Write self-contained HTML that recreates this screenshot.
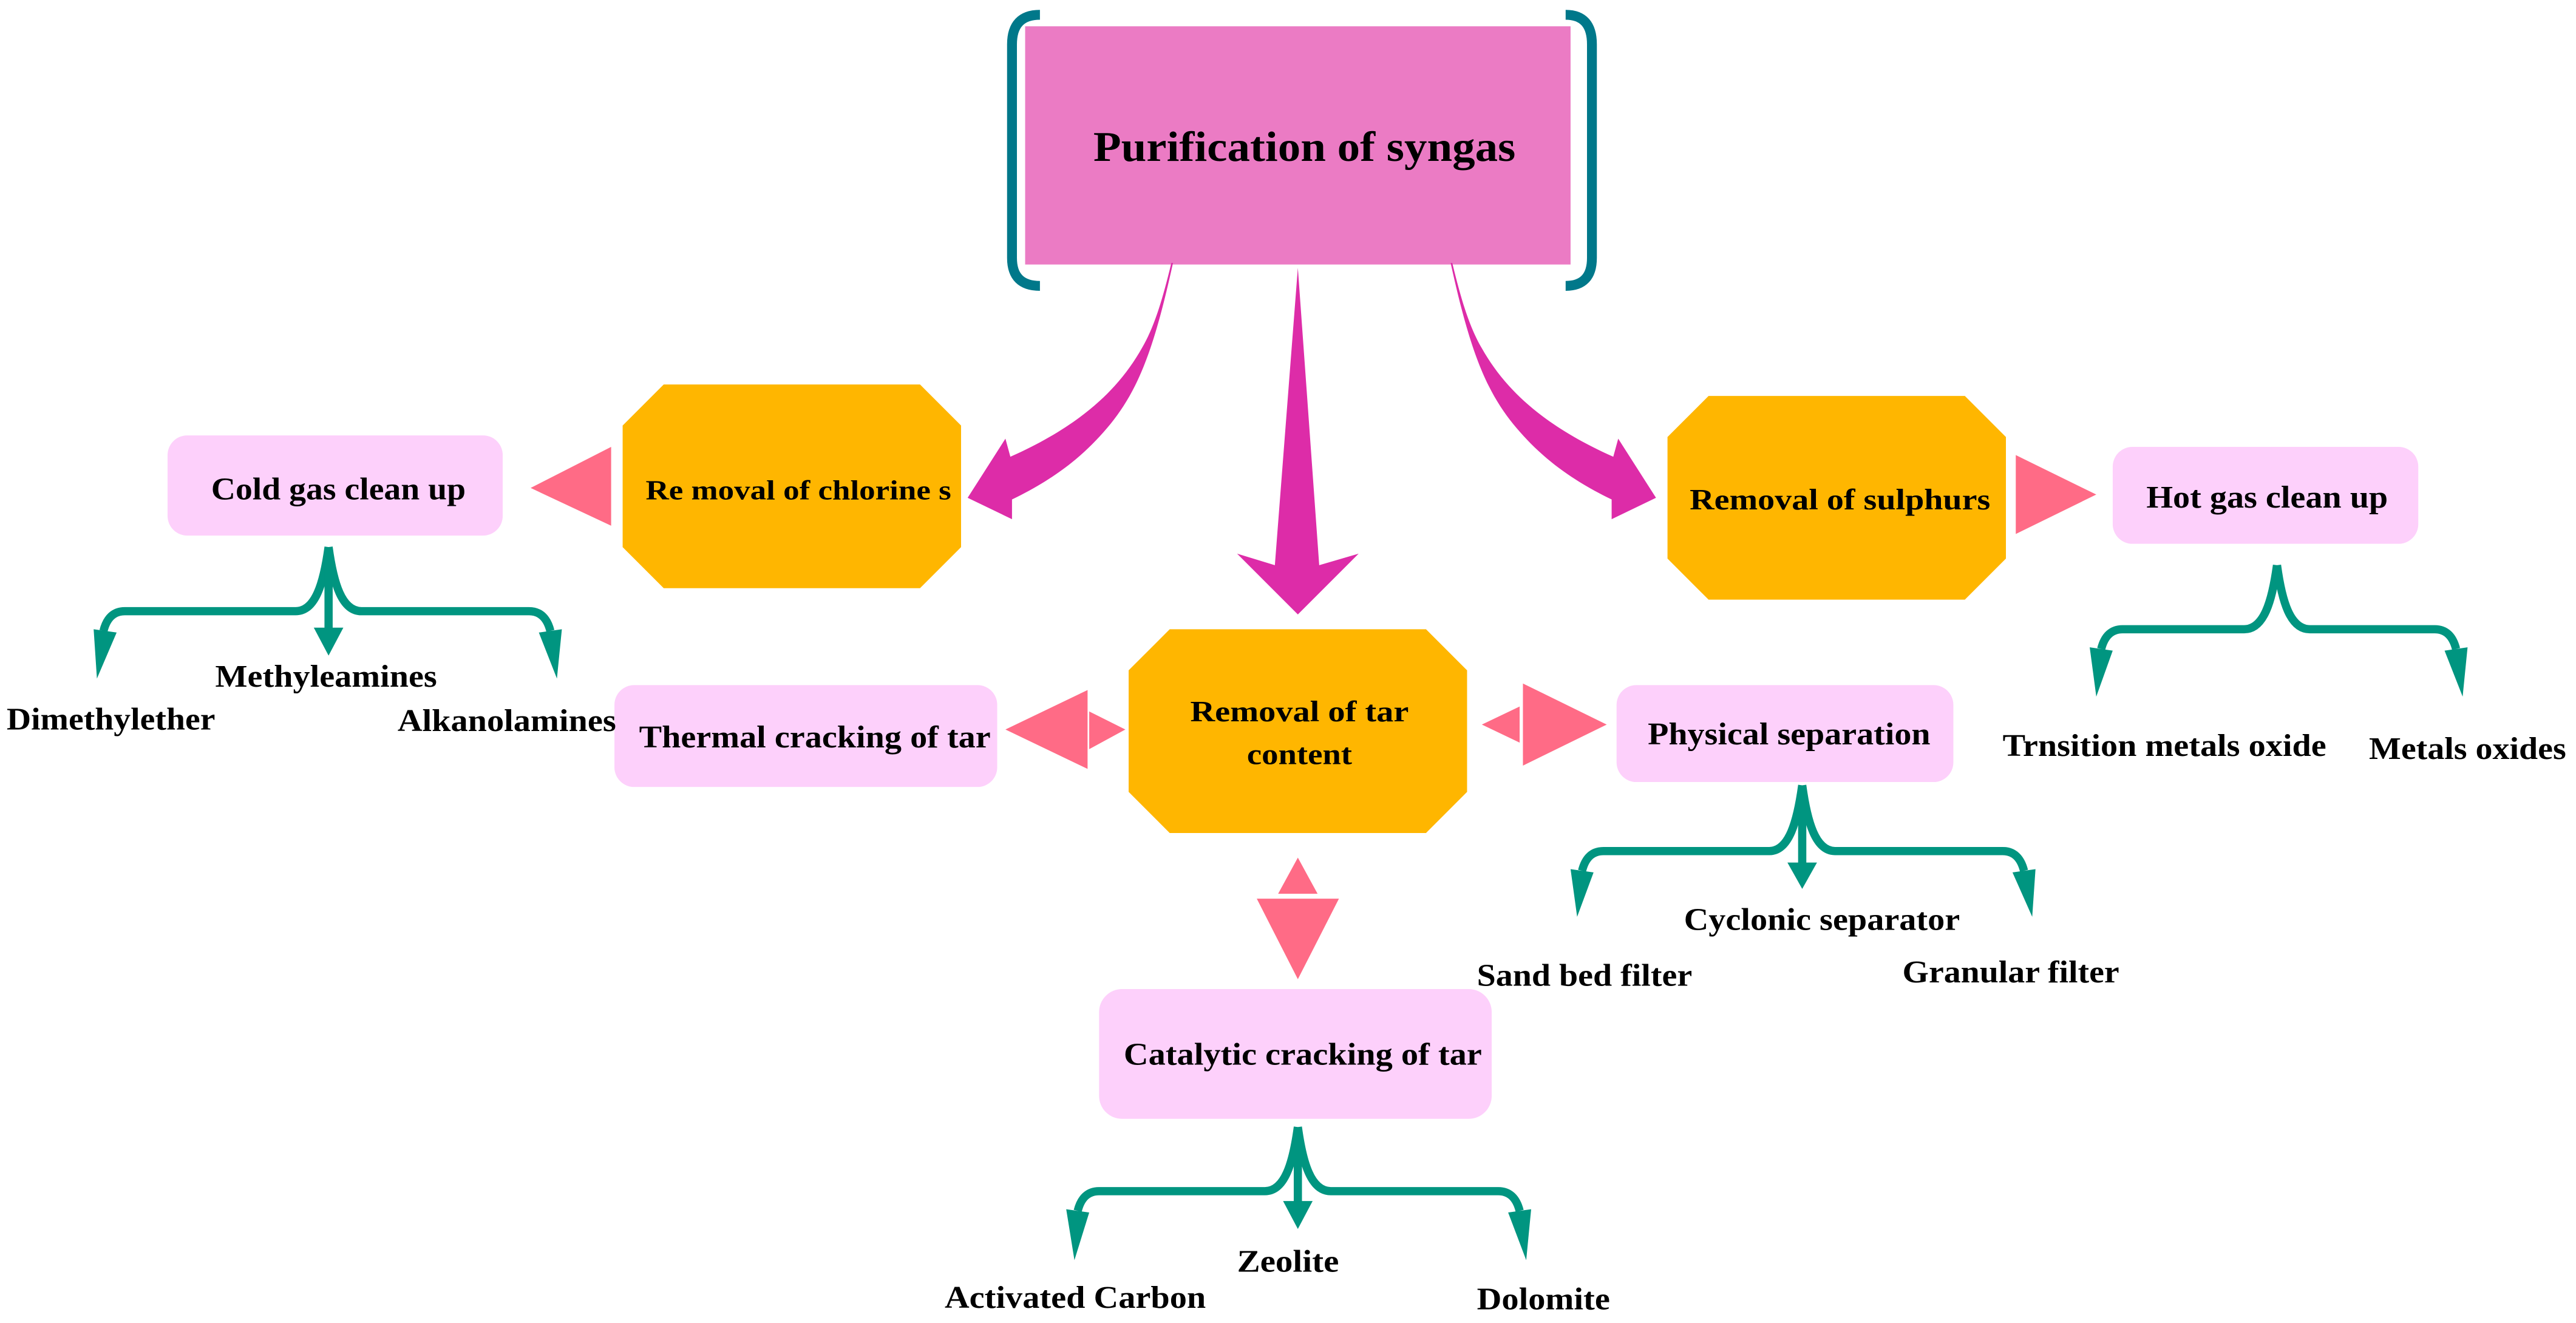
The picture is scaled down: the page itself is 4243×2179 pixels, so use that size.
<!DOCTYPE html>
<html><head><meta charset="utf-8"><style>
html,body{margin:0;padding:0;background:#fff;}
svg{display:block;}
text{font-family:"Liberation Serif",serif;font-weight:bold;fill:#000;}
</style></head><body>
<svg width="4243" height="2179" viewBox="0 0 1568 805.25" xmlns="http://www.w3.org/2000/svg">
<rect x="0" y="0" width="1568" height="806" fill="#fff"/>
<path d="M633,9 Q616,9 616,27 L616,157 Q616,174 633,174" fill="none" stroke="#00788A" stroke-width="6"/>
<path d="M953,9 Q969,9 969,27 L969,157 Q969,174 953,174" fill="none" stroke="#00788A" stroke-width="6"/>
<rect x="624" y="16" width="332" height="145" fill="#EB7BC4"/>
<text x="794" y="98" font-size="26" text-anchor="middle" textLength="257" lengthAdjust="spacingAndGlyphs">Purification of syngas</text>

<polygon points="790,163 803,344 827,337 790,374 753,337 776,344" fill="#DD2CA8"/>
<path d="M713,160 C707,185 702,200 695,212 C682,235 660,258 615,278 L612,267 L589,303 L616,316 L616,304 C645,290 662,275 676,258 C692,238 702,215 714,160 Z" fill="#DD2CA8"/>
<g transform="translate(1597,0) scale(-1,1)"><path d="M713,160 C707,185 702,200 695,212 C682,235 660,258 615,278 L612,267 L589,303 L616,316 L616,304 C645,290 662,275 676,258 C692,238 702,215 714,160 Z" fill="#DD2CA8"/></g>

<polygon points="404,234 560,234 585,259 585,333 560,358 404,358 379,333 379,259" fill="#FFB600"/>
<text x="486" y="304" font-size="17" text-anchor="middle" textLength="186" lengthAdjust="spacingAndGlyphs">Re moval of chlorine s</text>
<polygon points="1040,241 1196,241 1221,266 1221,340 1196,365 1040,365 1015,340 1015,266" fill="#FFB600"/>
<text x="1120" y="310" font-size="18" text-anchor="middle" textLength="183" lengthAdjust="spacingAndGlyphs">Removal of sulphurs</text>
<polygon points="712,383 868,383 893,408 893,482 868,507 712,507 687,482 687,408" fill="#FFB600"/>
<text x="791" y="439" font-size="18" text-anchor="middle" textLength="133" lengthAdjust="spacingAndGlyphs">Removal of tar</text>
<text x="791" y="465" font-size="18" text-anchor="middle" textLength="64" lengthAdjust="spacingAndGlyphs">content</text>

<rect x="102" y="265" width="204" height="61" rx="12" fill="#FDD0FB"/>
<text x="206" y="304" font-size="19" text-anchor="middle" textLength="155" lengthAdjust="spacingAndGlyphs">Cold gas clean up</text>
<rect x="1286" y="272" width="186" height="59" rx="12" fill="#FDD0FB"/>
<text x="1380" y="309" font-size="19" text-anchor="middle" textLength="147" lengthAdjust="spacingAndGlyphs">Hot gas clean up</text>
<rect x="374" y="417" width="233" height="62" rx="12" fill="#FDD0FB"/>
<text x="496" y="455" font-size="19" text-anchor="middle" textLength="214" lengthAdjust="spacingAndGlyphs">Thermal cracking of tar</text>
<rect x="984" y="417" width="205" height="59" rx="12" fill="#FDD0FB"/>
<text x="1089" y="453" font-size="19" text-anchor="middle" textLength="172" lengthAdjust="spacingAndGlyphs">Physical separation</text>
<rect x="669" y="602" width="239" height="79" rx="14" fill="#FDD0FB"/>
<text x="793" y="648" font-size="19" text-anchor="middle" textLength="218" lengthAdjust="spacingAndGlyphs">Catalytic cracking of tar</text>

<g fill="#FF6B86">
<polygon points="323,297 372,272 372,320"/>
<polygon points="1276,301 1227,277 1227,325"/>
<polygon points="612,444 662,420 662,468"/>
<polygon points="685,444 663,433 663,456"/>
<polygon points="902,441 925,430 925,452"/>
<polygon points="978,441 927,416 927,466"/>
<polygon points="790,522 778,544 802,544"/>
<polygon points="790,596 765,547 815,547"/>
</g>

<g fill="none" stroke="#009580" stroke-width="5">
<path d="M200,333 C197,355 192,372 180,372 L76,372 Q66,372 63,384"/>
<path d="M200,333 C203,355 208,372 220,372 L322,372 Q332,372 335,384"/>
<path d="M200,335 L200,384"/>
<path d="M1386,344 C1383,366 1378,383 1366,383 L1292,383 Q1282,383 1279,395"/>
<path d="M1386,344 C1389,366 1394,383 1406,383 L1482,383 Q1492,383 1495,395"/>
<path d="M1097,478 C1094,500 1089,518 1077,518 L976,518 Q966,518 963,530"/>
<path d="M1097,478 C1100,500 1105,518 1117,518 L1219,518 Q1229,518 1232,530"/>
<path d="M1097,480 L1097,528"/>
<path d="M790,686 C787,708 782,725 770,725 L669,725 Q659,725 656,737"/>
<path d="M790,686 C793,708 798,725 810,725 L912,725 Q922,725 925,737"/>
<path d="M790,688 L790,734"/>
</g>
<g fill="#009580">
<polygon points="57,383 71,385 59,413"/>
<polygon points="328,385 342,383 339,413"/>
<polygon points="191,382 209,382 200,399"/>
<polygon points="1272,394 1286,396 1276,424"/>
<polygon points="1488,396 1502,394 1499,424"/>
<polygon points="956,529 970,531 960,558"/>
<polygon points="1225,531 1239,529 1237,558"/>
<polygon points="1088,525 1106,525 1097,541"/>
<polygon points="649,736 663,738 654,767"/>
<polygon points="918,738 932,736 929,767"/>
<polygon points="781,731 799,731 790,748"/>
</g>

<g font-size="19">
<text x="4" y="444" textLength="127" lengthAdjust="spacingAndGlyphs">Dimethylether</text>
<text x="131" y="418" textLength="135" lengthAdjust="spacingAndGlyphs">Methyleamines</text>
<text x="242" y="445" textLength="133" lengthAdjust="spacingAndGlyphs">Alkanolamines</text>
<text x="1219" y="460" textLength="197" lengthAdjust="spacingAndGlyphs">Trnsition metals oxide</text>
<text x="1442" y="462" textLength="120" lengthAdjust="spacingAndGlyphs">Metals oxides</text>
<text x="1025" y="566" textLength="168" lengthAdjust="spacingAndGlyphs">Cyclonic separator</text>
<text x="899" y="600" textLength="131" lengthAdjust="spacingAndGlyphs">Sand bed filter</text>
<text x="1158" y="598" textLength="132" lengthAdjust="spacingAndGlyphs">Granular filter</text>
<text x="753" y="774" textLength="62" lengthAdjust="spacingAndGlyphs">Zeolite</text>
<text x="575" y="796" textLength="159" lengthAdjust="spacingAndGlyphs">Activated Carbon</text>
<text x="899" y="797" textLength="81" lengthAdjust="spacingAndGlyphs">Dolomite</text>
</g>
</svg>
</body></html>
